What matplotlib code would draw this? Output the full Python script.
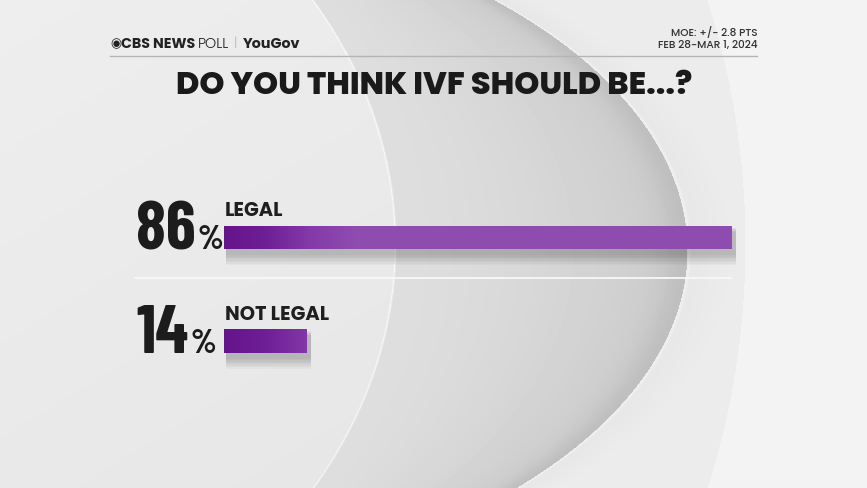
import numpy as np
import matplotlib
matplotlib.use("Agg")
import matplotlib.pyplot as plt
from matplotlib.colors import LinearSegmentedColormap
from matplotlib import font_manager

categories = ["LEGAL", "NOT LEGAL"]
values = [86, 14]
title = "DO YOU THINK IVF SHOULD BE...?"
moe_text = "MOE: +/- 2.8 PTS"
date_text = "FEB 28-MAR 1, 2024"

W, H = 867, 488
fig = plt.figure(figsize=(W / 100, H / 100), dpi=100)

faces = {}
for f in font_manager.fontManager.ttflist:
    try:
        w = int(f.weight)
    except Exception:
        w = 400
    if f.style == "normal":
        faces.setdefault(f.name, set()).add(w)

def pick(cands, fallback="DejaVu Sans"):
    for c, wmin in cands:
        if c in faces and max(faces[c]) >= wmin:
            return c
    return fallback

head = pick([("Montserrat", 800), ("Poppins", 800), ("Raleway", 800),
             ("Lato", 900), ("Open Sans", 800)])
narrow = pick([("Barlow Condensed", 700), ("Roboto Condensed", 700),
               ("Oswald", 700), ("Fjalla One", 400), ("Anton", 400)])
FH = [head, "DejaVu Sans"]
FN = [narrow, "DejaVu Sans"]

def wt(fam, w):
    if fam in faces and w in faces[fam]:
        return w
    return "bold" if w >= 600 else "normal"

# ---- background (decorative swoosh) ----
bg = fig.add_axes([0, 0, 1, 1])
bg.set_xlim(0, W)
bg.set_ylim(H, 0)
bg.axis("off")
yy, xx = np.mgrid[0:H, 0:W].astype(float)

def xb(cx, a, b, cy):
    return cx + a * np.sqrt(np.clip(1 - ((yy - cy) / b) ** 2, 0, 1))

xin = xb(-200, 595, 481, 244)
xout = xb(0, 687, 360, 250)
x3 = xb(0, 745, 774, 244)

left_val = 0.922 - 0.02 * (yy / H) + 0.01 * (1 - xx / 400)
t = np.clip((xx - xin) / np.maximum(xout - xin, 1), 0, 1)
band_val = 0.87 - 0.08 * t ** 1.5 - 0.045 * np.exp(-((1 - t) * 12) ** 2)
mid_val = 0.905 + 0.02 * np.clip((xx - xout) / 50, 0, 1)
right_val = 0.95

img = np.where(xx < xin, left_val,
      np.where(xx < xout, band_val,
      np.where(xx < x3, mid_val, right_val)))
img = img + 0.06 * np.exp(-((xx - xin) / 1.0) ** 2)
img = img + 0.03 * np.exp(-((xx - xout - 1.5) / 1.8) ** 2)
img = np.clip(img, 0, 1)
bg.imshow(img, cmap="gray", vmin=0, vmax=1, extent=(0, W, H, 0), aspect="auto",
          interpolation="bilinear", zorder=0)

bg.plot([110, 757], [55.5, 55.5], color="#b5b5b5", lw=1.0, zorder=1)
bg.plot([135, 731], [278, 278], color="#f8f8f8", lw=1.3, zorder=1)

fig.canvas.draw()
R = fig.canvas.get_renderer()
inv = bg.transData.inverted()

def right_of(txt, gap=0):
    bb = txt.get_window_extent(R)
    return inv.transform((bb.x1, bb.y0))[0] + gap

# header texts
t1 = bg.text(110, 47.5, "◉", fontsize=9.2, color="#222222", family=["DejaVu Sans"],
             va="baseline", ha="left")
t2 = bg.text(right_of(t1, -0.5), 47.5, "CBS NEWS", fontsize=10.3, fontweight=wt(head, 700),
             color="#222222", family=FH, va="baseline", ha="left")
t3 = bg.text(right_of(t2, 3), 47.5, "POLL", fontsize=10.3, fontweight=wt(head, 300),
             color="#222222", family=FH, va="baseline", ha="left")
t4 = bg.text(right_of(t3, 5), 47.5, "|", fontsize=8.5, color="#c0c0c0", family=FH,
             va="baseline", ha="left")
bg.text(right_of(t4, 5), 47.5, "YouGov", fontsize=10.3, fontweight=wt(head, 700),
        color="#222222", family=FH, va="baseline", ha="left")
bg.text(758, 36, moe_text, fontsize=7.6, fontweight=wt(head, 500), color="#333333",
        family=FH, ha="right", va="baseline")
bg.text(758, 48, date_text, fontsize=7.6, fontweight=wt(head, 500), color="#333333",
        family=FH, ha="right", va="baseline")
bg.text(434, 94, title, fontsize=23, fontweight=wt(head, 800), color="#1a1a1a",
        family=FH, ha="center", va="baseline")

# ---- bars ----
ax = fig.add_axes([224 / W, 0, 590 / W, 1])
ax.axis("off")
ax.patch.set_alpha(0)

ypos = [237.5, 341]
bh = 23.5
cmap = LinearSegmentedColormap.from_list("p", ["#65138a", "#6f2096", "#843aa8", "#8e4caf"])
grad = np.tile(np.clip(np.linspace(0, 100, 600) / 22, 0, 1), (2, 1))
for v, y in zip(values, ypos):
    for k in range(8):
        ax.barh(y + 6 + k * 0.4, v + 0.5, height=bh + 2 * k, left=0.3, color="#000000",
                alpha=0.026, lw=0, zorder=1)
    bar = ax.barh(y, v, height=bh, left=0, color="#8e4caf", lw=0, zorder=2)[0]
    im = ax.imshow(grad, cmap=cmap, extent=(0, 100, y + bh / 2, y - bh / 2),
                   aspect="auto", zorder=3, interpolation="bilinear")
    im.set_clip_path(bar)
ax.set_xlim(0, 100)
ax.set_ylim(H, 0)

# labels
for cat, v, y in zip(categories, values, ypos):
    bg.text(225, y - bh / 2 - 9.5, cat, fontsize=14, fontweight=wt(head, 700), color="#1f1f1f",
            family=FH, ha="left", va="baseline")
    num = bg.text(136, y + bh / 2, f"{v}", fontsize=49, fontweight=wt(narrow, 700),
                  color="#1c1c1c", family=FN, ha="left", va="baseline")
    bg.text(right_of(num, 2), y + bh / 2, "%", fontsize=24, fontweight=wt(narrow, 700),
            color="#1c1c1c", family=FN, ha="left", va="baseline")

fig.savefig("out.png", dpi=100)
